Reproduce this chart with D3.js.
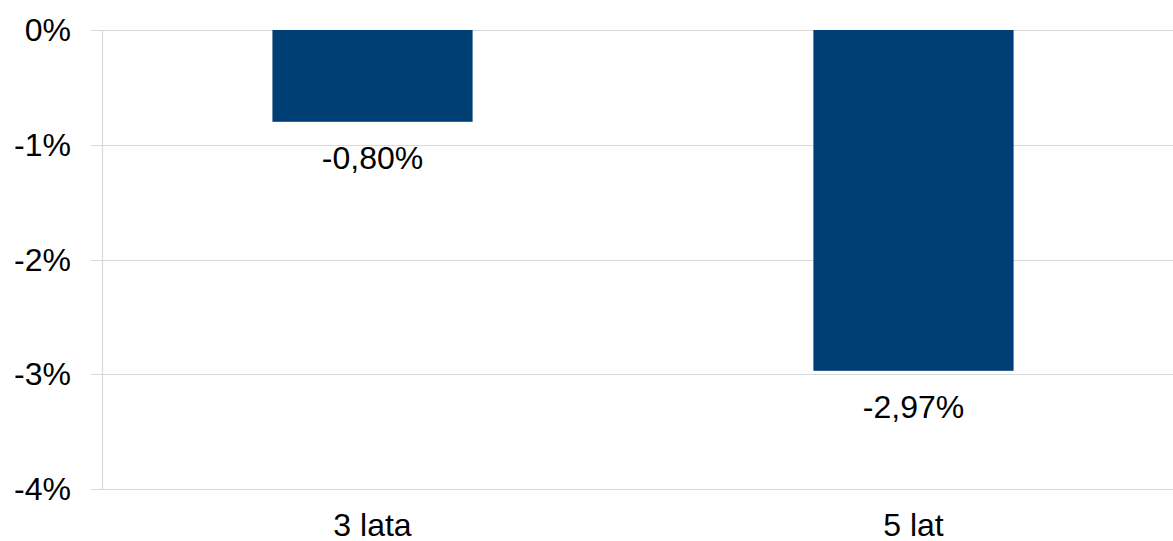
<!DOCTYPE html>
<html>
<head>
<meta charset="utf-8">
<script src="https://cdn.jsdelivr.net/npm/d3@7"></script>
<style>
  body { margin: 0; background: #fff; }
  text { font-family: "Liberation Sans", Arial, sans-serif; fill: #000; }
</style>
</head>
<body>
<div id="chartDiv"></div>
<script>
// categories and values (percent)
var categories = ["3 lata", "5 lat"];
var values = [-0.80, -2.97];
var valueLabels = ["-0,80%", "-2,97%"];
var yTicks = [0, -1, -2, -3, -4];

var width = 1173, height = 541;
var plotLeft = 102, plotTop = 30, plotBottom = 489;
var fontSize = 32;

var svg = d3.select("#chartDiv")
            .append("svg")
            .attr("width", width)
            .attr("height", height);

var xScale = d3.scaleBand()
               .domain(categories)
               .range([plotLeft, plotLeft + 2 * 541])
               .paddingInner(0.63)
               .paddingOuter(0.315);

var yScale = d3.scaleLinear()
               .domain([-4, 0])
               .range([plotBottom, plotTop]);

// gridlines
svg.selectAll("line.grid")
   .data(yTicks)
   .enter()
   .append("line")
   .attr("class", "grid")
   .attr("x1", plotLeft - 11)
   .attr("x2", width)
   .attr("y1", function(d) { return Math.round(yScale(d)) + 0.5; })
   .attr("y2", function(d) { return Math.round(yScale(d)) + 0.5; })
   .attr("stroke", "#d9d9d9")
   .attr("stroke-width", 1.2);

// y axis line
svg.append("line")
   .attr("x1", plotLeft + 0.5).attr("x2", plotLeft + 0.5)
   .attr("y1", plotTop).attr("y2", plotBottom)
   .attr("stroke", "#d9d9d9")
   .attr("stroke-width", 1.2);

// y tick labels
svg.selectAll("text.ytick")
   .data(yTicks)
   .enter()
   .append("text")
   .attr("class", "ytick")
   .attr("x", 71)
   .attr("y", function(d) { return yScale(d) + 11; })
   .attr("text-anchor", "end")
   .attr("font-size", fontSize)
   .text(function(d) { return d + "%"; });

// bars
svg.selectAll("rect.bar")
   .data(values)
   .enter()
   .append("rect")
   .attr("class", "bar")
   .attr("x", function(d, i) { return xScale(categories[i]); })
   .attr("y", yScale(0))
   .attr("width", xScale.bandwidth())
   .attr("height", function(d) { return yScale(d) - yScale(0); })
   .attr("fill", "#003f74");

// value labels
svg.selectAll("text.val")
   .data(values)
   .enter()
   .append("text")
   .attr("class", "val")
   .attr("x", function(d, i) { return xScale(categories[i]) + xScale.bandwidth() / 2; })
   .attr("y", function(d) { return yScale(d) + 47; })
   .attr("text-anchor", "middle")
   .attr("font-size", fontSize)
   .text(function(d, i) { return valueLabels[i]; });

// category labels
svg.selectAll("text.cat")
   .data(categories)
   .enter()
   .append("text")
   .attr("class", "cat")
   .attr("x", function(d) { return xScale(d) + xScale.bandwidth() / 2; })
   .attr("y", 536)
   .attr("text-anchor", "middle")
   .attr("font-size", fontSize)
   .text(function(d) { return d; });
</script>
</body>
</html>
